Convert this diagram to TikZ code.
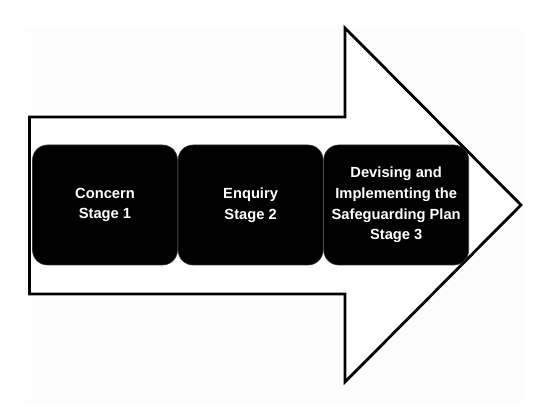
\documentclass[tikz,border=0pt]{standalone}
\usepackage{fontspec}
\setmainfont{Liberation Sans}
\definecolor{paper}{HTML}{FDFDFD}
\definecolor{stagefill}{HTML}{000000}
\usetikzlibrary{positioning}
\tikzset{
  stagebox/.style={rectangle,rounded corners=15pt,fill=stagefill,draw=black!80,line width=0.6pt,
    minimum width=145pt,minimum height=120pt,inner sep=0pt,text=white,align=center,
    font=\fontsize{14.7}{20.7}\selectfont\bfseries},
}

\begin{document}
\begin{tikzpicture}[x=1pt,y=-1pt]
    \useasboundingbox (0,0) rectangle (550,411);
    \fill[paper] (25,26) rectangle (526,406);
    % big arrow outline
    \draw[line width=2.8pt,line join=miter,fill=white] (29.5,117) -- (345,117) -- (345,28) -- (521,205)
        -- (345,382) -- (345,294) -- (29.5,294) -- cycle;
    % stages
    \node[stagebox] (concern) at (105,205) {Concern\\Stage 1};
    \node[stagebox,right=0pt of concern] (enquiry) {Enquiry\\Stage 2};
    \node[stagebox,right=0pt of enquiry] (plan) {Devising and\\Implementing the\\Safeguarding Plan\\Stage 3};
\end{tikzpicture}
\end{document}
